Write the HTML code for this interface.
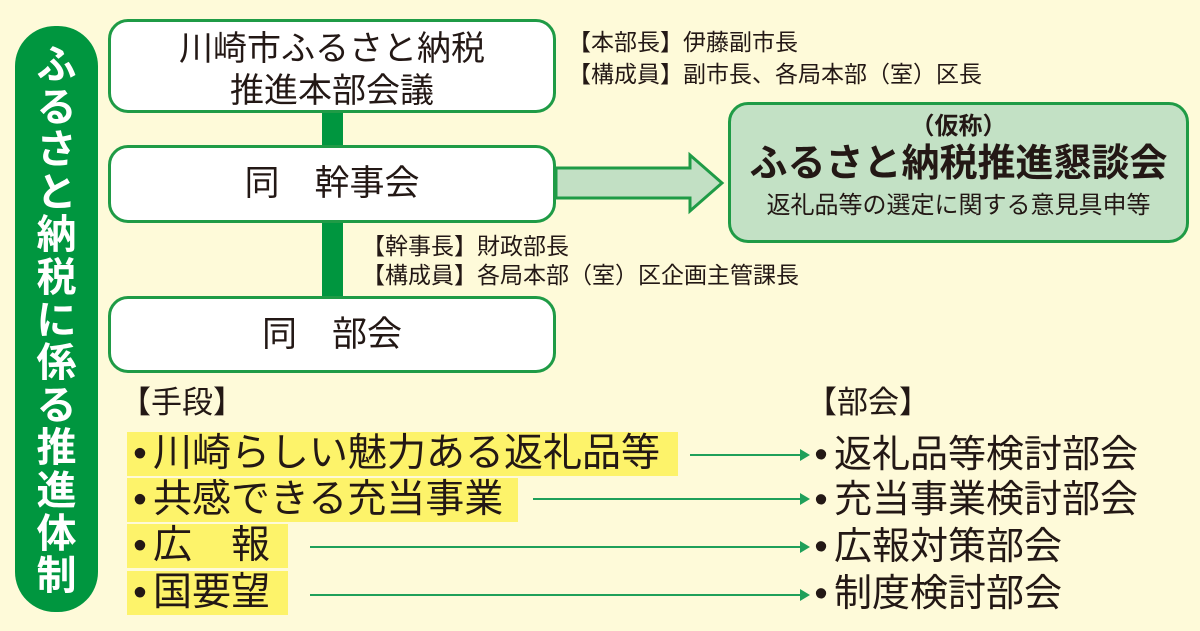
<!DOCTYPE html>
<html><head><meta charset="utf-8"><style>
body{margin:0;width:1200px;height:631px;background:#fefad9;position:relative;overflow:hidden;font-family:"Liberation Sans","Noto Sans CJK JP",sans-serif;color:#231815}
.a{position:absolute}
.pill{left:15px;top:26px;width:83px;height:586px;background:#00963f;border-radius:40px;overflow:hidden}
.pill div{color:#fff;font-weight:bold;font-size:40px;line-height:42.6px;text-align:center;width:83px}
.box{position:absolute;background:#fff;border:3px solid #1f9b46;border-radius:20px;box-sizing:border-box;text-align:center;font-size:35px}
.bar{position:absolute;left:322px;width:21px;background:#00963f}
.t22{font-size:23px;line-height:30px;white-space:nowrap}
.hl{position:absolute;left:127px;background:#fdf36a;font-size:39px;line-height:44px;height:44px;white-space:nowrap}
.ln{position:absolute;height:2px;background:#1fa05a}
.ln:after{content:"";position:absolute;right:-2px;top:-5px;border-left:10px solid #1fa05a;border-top:6px solid transparent;border-bottom:6px solid transparent}
.r{position:absolute;left:808px;font-size:38px;line-height:44px;white-space:nowrap}
.b{font-family:"Liberation Sans",sans-serif;display:inline-block;width:26px;text-align:center}
</style></head><body>
<div class="a pill" style="padding-top:18px;box-sizing:border-box">
<div>ふ</div><div>る</div><div>さ</div><div>と</div><div>納</div><div>税</div><div>に</div><div>係</div><div>る</div><div>推</div><div>進</div><div>体</div><div>制</div>
</div>
<div class="bar" style="top:110px;height:38px"></div>
<div class="bar" style="top:220px;height:80px"></div>
<div class="box" style="left:108px;top:19px;width:448px;height:94px;padding-top:6px;line-height:42px;font-size:34px">川崎市ふるさと納税<br>推進本部会議</div>
<div class="box" style="left:108px;top:145px;width:448px;height:78px;line-height:72px">同　幹事会</div>
<div class="box" style="left:108px;top:296px;width:448px;height:77px;line-height:71px">同　部会</div>
<div class="a t22" style="left:568px;top:27px">【本部長】伊藤副市長</div>
<div class="a t22" style="left:568px;top:59px">【構成員】副市長、各局本部（室）区長</div>
<div class="a t22" style="left:362px;top:231px">【幹事長】財政部長</div>
<div class="a t22" style="left:362px;top:260px">【構成員】各局本部（室）区企画主管課長</div>
<svg class="a" style="left:550px;top:150px" width="180" height="70"><polygon points="6,18 140,18 140,5 172,33 140,61 140,48 6,48" fill="#c2e0c4" stroke="#1f9b46" stroke-width="3"/></svg>
<div class="box" style="left:728px;top:102px;width:461px;height:141px;background:#c3e1c5;border-radius:20px;font-size:31px">
<div style="font-size:24px;font-weight:bold;margin-top:8px;line-height:28px">（仮称）</div>
<div style="font-size:38px;font-weight:bold;line-height:46px">ふるさと納税推進懇談会</div>
<div style="font-size:24px;line-height:38px">返礼品等の選定に関する意見具申等</div>
</div>
<div class="a" style="left:120px;top:382px;font-size:31px;line-height:42px">【手段】</div>
<div class="a" style="left:806px;top:382px;font-size:31px;line-height:42px">【部会】</div>
<div class="hl" style="top:432px;width:551px"><span class="b">•</span>川崎らしい魅力ある返礼品等</div>
<div class="hl" style="top:478px;width:391px"><span class="b">•</span>共感できる充当事業</div>
<div class="hl" style="top:524px;width:161px"><span class="b">•</span>広　報</div>
<div class="hl" style="top:571px;width:161px"><span class="b">•</span>国要望</div>
<div class="ln" style="left:690px;top:454px;width:118px"></div>
<div class="ln" style="left:533px;top:498px;width:275px"></div>
<div class="ln" style="left:310px;top:546px;width:498px"></div>
<div class="ln" style="left:310px;top:594px;width:498px"></div>
<div class="r" style="top:433px"><span class="b">•</span>返礼品等検討部会</div>
<div class="r" style="top:478px"><span class="b">•</span>充当事業検討部会</div>
<div class="r" style="top:525px"><span class="b">•</span>広報対策部会</div>
<div class="r" style="top:572px"><span class="b">•</span>制度検討部会</div>
</body></html>
